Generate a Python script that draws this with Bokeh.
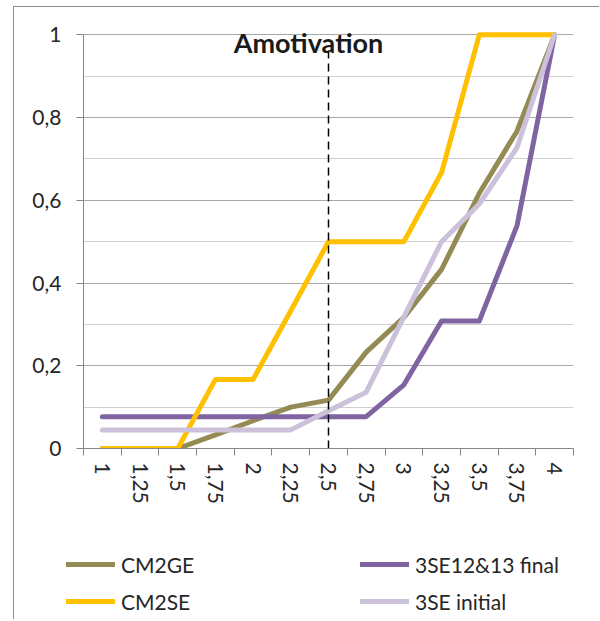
from bokeh.plotting import figure
from bokeh.models import Range1d, FixedTicker, Legend, LegendItem, Label
from bokeh.embed import file_html
from bokeh.resources import INLINE

# ---------------- data ----------------
x_values = [1, 1.25, 1.5, 1.75, 2, 2.25, 2.5, 2.75, 3, 3.25, 3.5, 3.75, 4]
x_labels = ["1", "1,25", "1,5", "1,75", "2", "2,25", "2,5", "2,75", "3", "3,25", "3,5", "3,75", "4"]

cm2ge = [0, 0, 0, 0.033, 0.067, 0.1, 0.117, 0.233, 0.317, 0.433, 0.617, 0.767, 1]
cm2se = [0, 0, 0, 0.167, 0.167, 0.333, 0.5, 0.5, 0.5, 0.667, 1, 1, 1]
se_final = [0.077, 0.077, 0.077, 0.077, 0.077, 0.077, 0.077, 0.077, 0.154, 0.308, 0.308, 0.538, 1]
se_initial = [0.045, 0.045, 0.045, 0.045, 0.045, 0.045, 0.091, 0.136, 0.318, 0.5, 0.591, 0.727, 1]

series_names = ["CM2GE", "3SE12&13 final", "CM2SE", "3SE initial"]
series_colors = ["#948A54", "#8064A2", "#FFC000", "#CCC1DA"]
series_values = [cm2ge, se_final, cm2se, se_initial]

y_ticks = [0, 0.2, 0.4, 0.6, 0.8, 1]
y_labels = ["0", "0,2", "0,4", "0,6", "0,8", "1"]
y_minor = [0.1, 0.3, 0.5, 0.7, 0.9]

chart_title = "Amotivation"
threshold_x = 2.5
threshold_top = 0.975

# ---------------- style ----------------
FONT = "Lato"
TEXT = "#262626"
AXIS = "#868686"
FRAME = "1px solid #8e8e8e"
step = 0.25
x_boundaries = [x_values[0] - step / 2 + step * k for k in range(len(x_values) + 1)]

p = figure(width=586, height=516,
           x_range=Range1d(x_boundaries[0], x_boundaries[-1]),
           y_range=Range1d(0, 1.008),
           output_backend="svg", toolbar_location=None,
           min_border_left=69, min_border_right=27,
           min_border_top=24, min_border_bottom=75)
p.styles = {"margin-left": "13px", "margin-top": "6px",
            "border-left": FRAME, "border-top": FRAME}
p.outline_line_color = None
p.background_fill_color = "white"
p.border_fill_color = "white"

# grid
p.xgrid.visible = False
p.ygrid.grid_line_color = "#a8a8a8"
p.ygrid.grid_line_width = 1
p.ygrid.minor_grid_line_color = "#d0d0d0"
p.ygrid.minor_grid_line_width = 1

# x axis
xa = p.xaxis[0]
xa.ticker = FixedTicker(ticks=x_values, minor_ticks=x_boundaries)
xa.major_label_overrides = dict(zip(x_values, x_labels))
xa.axis_line_color = AXIS
xa.major_tick_line_color = None
xa.major_tick_out = 0
xa.major_tick_in = 0
xa.minor_tick_line_color = AXIS
xa.minor_tick_out = 7
xa.minor_tick_in = 0
xa.major_label_orientation = "vertical"
xa.major_label_standoff = 7
xa.major_label_text_font = FONT
xa.major_label_text_font_size = "21px"
xa.major_label_text_color = TEXT

# y axis
ya = p.yaxis[0]
ya.ticker = FixedTicker(ticks=y_ticks, minor_ticks=y_minor)
ya.major_label_overrides = dict(zip(y_ticks, y_labels))
ya.bounds = (0, 1)
ya.axis_line_color = AXIS
ya.major_tick_line_color = AXIS
ya.major_tick_out = 7
ya.major_tick_in = 0
ya.minor_tick_line_color = None
ya.major_label_standoff = 15
ya.major_label_text_font = FONT
ya.major_label_text_font_size = "21px"
ya.major_label_text_color = TEXT

# series (draw order: CM2GE, 3SE final, CM2SE, 3SE initial)
lw = 5
for vals, col in zip(series_values, series_colors):
    p.line(x_values, vals, line_color=col, line_width=lw, line_join="round", line_cap="round")

# threshold dashed line
p.segment(x0=[threshold_x], y0=[0], x1=[threshold_x], y1=[threshold_top],
          line_color="black", line_width=1.5, line_dash="8 5")

# title inside plot
p.add_layout(Label(x=threshold_x, y=1, x_offset=-20, y_offset=-8, text=chart_title,
                   text_align="center", text_baseline="alphabetic",
                   text_font=FONT, text_font_style="bold", text_font_size="27px",
                   text_color="#1a1a1a"))

# legend in its own strip below the chart (series drawn outside its view)
p2 = figure(width=586, height=97, x_range=Range1d(0, 1), y_range=Range1d(2, 3),
            output_backend="svg", toolbar_location=None,
            x_axis_type=None, y_axis_type=None, min_border=0)
p2.styles = {"margin-left": "13px", "border-left": FRAME}
p2.outline_line_color = None
p2.xgrid.visible = False
p2.ygrid.visible = False
legend_renderers = {}
for name, vals, col in zip(series_names, series_values, series_colors):
    legend_renderers[name] = p2.line(x_values, vals, line_color=col, line_width=lw, line_cap="round")

legend_order = ["CM2GE", "CM2SE", "3SE12&13 final", "3SE initial"]  # column-major fill
legend = Legend(items=[LegendItem(label=n, renderers=[legend_renderers[n]]) for n in legend_order],
                ncols=2, location=(52, 5),
                glyph_width=49, glyph_height=26, label_height=26, label_width=228,
                label_standoff=6, spacing=11, padding=0, margin=0,
                border_line_color=None, background_fill_alpha=0,
                label_text_font=FONT, label_text_font_size="21px", label_text_color=TEXT)
p2.add_layout(legend, "center")

open("out.html", "w").write(file_html([p, p2], INLINE))
